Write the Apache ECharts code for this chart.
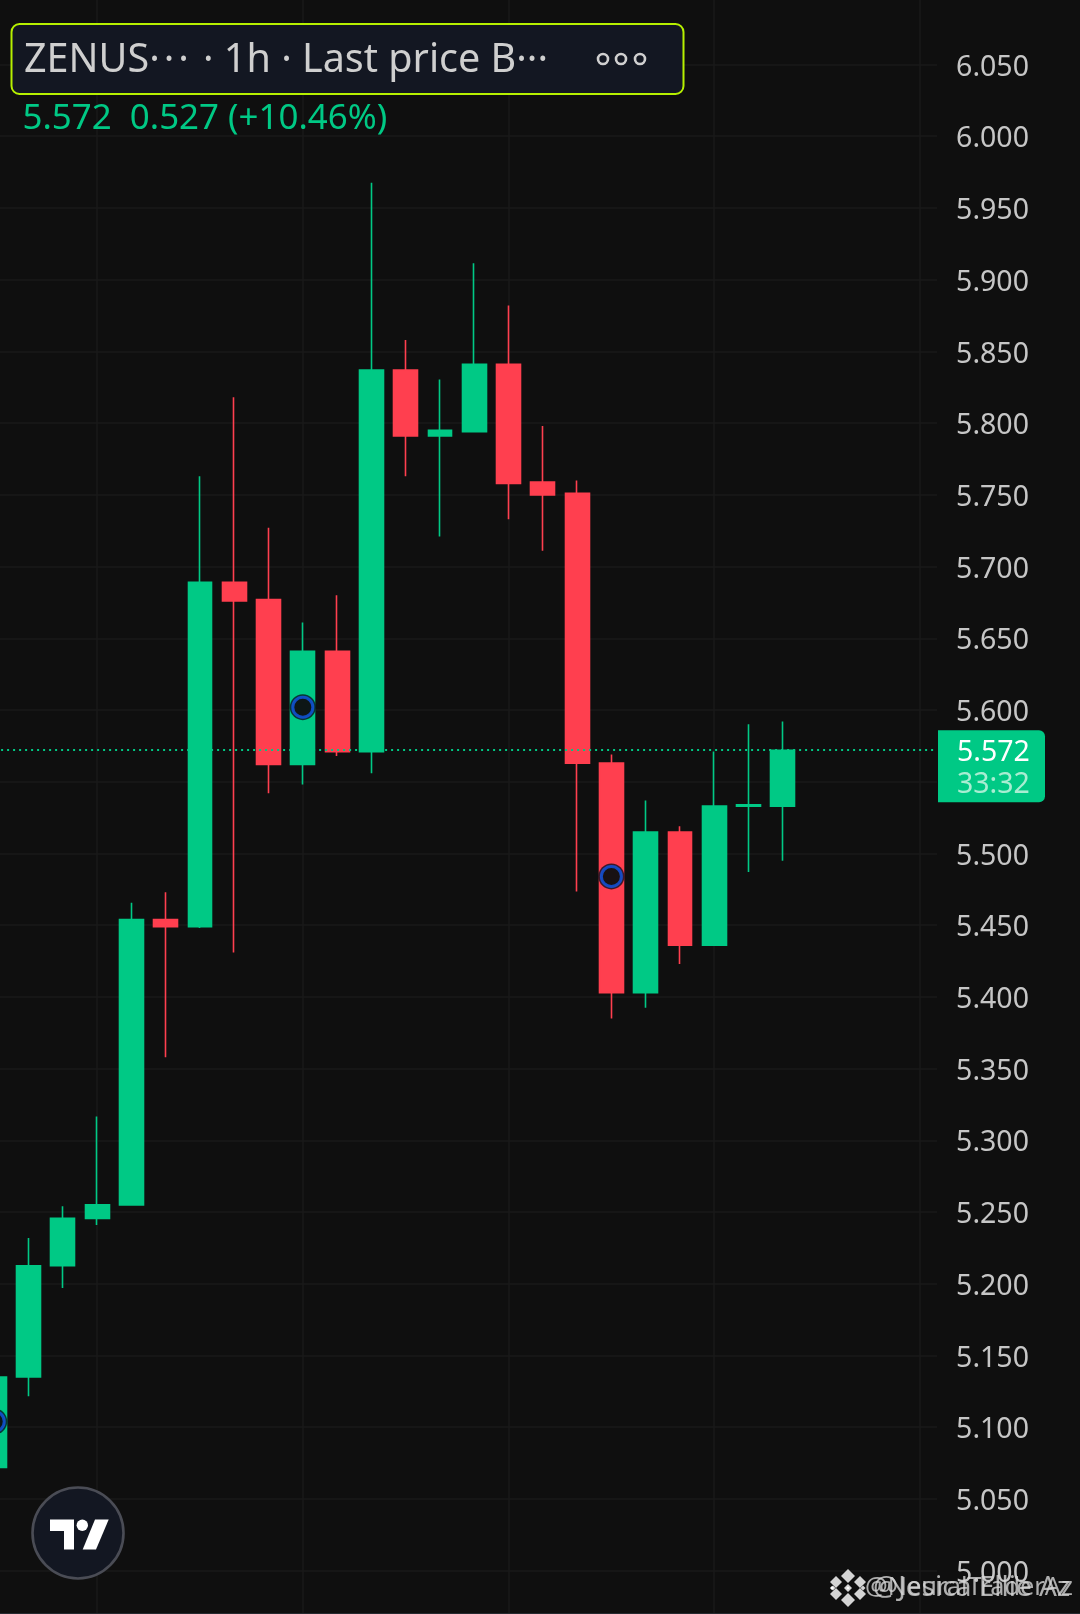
<!DOCTYPE html>
<html><head><meta charset="utf-8">
<style>html,body{margin:0;padding:0;background:#0f0f0f}#c{width:1080px;height:1614px}</style>
<script src="https://cdn.jsdelivr.net/npm/echarts@6/dist/echarts.min.js"></script>
</head><body><div id="c"></div>
<script>
const candleLabels = Array.from({length:28},(_, i)=>String(i));
const opens  = [5.072,5.135,5.2126,5.2456,5.255,5.454,5.449,5.689,5.677,5.562,5.641,5.571,5.837,5.791,5.794,5.841,5.759,5.751,5.563,5.403,5.515,5.436,5.533,5.533];
const closes = [5.135,5.2126,5.2456,5.255,5.454,5.449,5.689,5.676,5.562,5.641,5.571,5.837,5.791,5.795,5.841,5.758,5.750,5.563,5.403,5.515,5.436,5.533,5.534,5.572];
const lows   = [5.072,5.1216,5.197,5.241,5.255,5.358,5.448,5.431,5.542,5.548,5.568,5.556,5.763,5.721,5.794,5.733,5.711,5.4735,5.385,5.3925,5.423,5.436,5.487,5.495];
const highs  = [5.135,5.232,5.254,5.3166,5.4657,5.473,5.763,5.818,5.727,5.661,5.68,5.9675,5.858,5.8305,5.9115,5.882,5.798,5.76,5.569,5.537,5.519,5.571,5.59,5.592];
const eventIndex = [0,9,18];
const eventPrice = [5.104,5.602,5.484];
const gridIndex = [3,9,15,21,27];
const lastPrice = 5.572;
const headerText = 'ZENUS\u00b7\u200a\u00b7\u200a\u00b7 \u200a\u00b7 1h \u00b7 Last price B\u00b7\u00b7\u00b7';
const quoteText = '5.572  0.527 (+10.46%)';
const countdown = '33:32';
const watermarks = ['@NeuralTraderAz','@Jesica Ellie Az'];

const GREEN='#00c985', RED='#ff3f4f', GRID='#1a1a1a', BG='#0f0f0f';
const FONT='"Noto Sans"';
const chart = echarts.init(document.getElementById('c'),null,{width:1080,height:1614});
chart.setOption({
  animation:false,
  backgroundColor:BG,
  grid:{left:-22.9,width:960,top:-7.2,height:1649.6,containLabel:false,outerBoundsMode:'none'},
  xAxis:{type:'category',data:candleLabels,boundaryGap:true,
    axisLine:{show:false},axisTick:{show:false},axisLabel:{show:false},splitLine:{show:false}},
  yAxis:{type:'value',position:'right',min:4.95,max:6.10,interval:0.05,scale:true,
    axisLine:{show:false},axisTick:{show:false},
    splitLine:{show:true,lineStyle:{color:GRID,width:1.5}},
    axisLabel:{show:true,margin:19,align:'left',verticalAlign:'top',lineHeight:6,color:'#c6c6c6',fontFamily:FONT,fontSize:28.5,
      showMinLabel:false,showMaxLabel:false,formatter:v=>v.toFixed(3)}},
  series:[
    {type:'line',data:[],silent:true,z:1,
      markLine:{silent:true,symbol:'none',animation:false,z:1,label:{show:false},
        lineStyle:{color:GRID,width:1.5,type:'solid'},
        data:gridIndex.map(i=>({xAxis:i}))}},
    {type:'candlestick',barWidth:24.4,z:3,
      itemStyle:{color:GREEN,color0:RED,borderColor:GREEN,borderColor0:RED,borderWidth:1.6},
      data:opens.map((o,i)=>[o,closes[i],lows[i],highs[i]])},
    {type:'line',data:[],silent:true,z:6,
      markLine:{silent:true,symbol:'none',animation:false,z:6,precision:3,label:{show:false},
        lineStyle:{color:GREEN,width:2,type:[2,4]},
        data:[{yAxis:lastPrice}]}},
    {type:'scatter',symbol:'circle',symbolSize:26,z:7,silent:true,
      itemStyle:{color:'#0b1020'},data:eventIndex.map((x,i)=>[x,eventPrice[i]])},
    {type:'scatter',symbol:'circle',symbolSize:20,z:8,silent:true,
      itemStyle:{color:BG,borderColor:'#1258e8',borderWidth:3},data:eventIndex.map((x,i)=>[x,eventPrice[i]])}
  ]
});
const tagY = chart.convertToPixel({yAxisIndex:0},lastPrice);
const Z=100;
const txt=(text,x,y,size,fill,z)=>({type:'text',z:z||Z+1,style:{text,x,y,font:size+'px '+FONT,fill,textAlign:'left',textVerticalAlign:'middle'}});
const ring=(cx,cy)=>({type:'circle',z:Z+1,shape:{cx,cy,r:5},style:{fill:'none',stroke:'#d0d0d0',lineWidth:2.6}});
const diamond=(cx,cy,r,fill)=>({type:'polygon',z:Z+1,shape:{points:[[cx,cy-r],[cx+r,cy],[cx,cy+r],[cx-r,cy]]},style:{fill}});
chart.setOption({graphic:{elements:[
  {type:'rect',z:Z,shape:{x:11.5,y:24,width:672,height:70,r:8},style:{fill:'#131722',stroke:'#b6f000',lineWidth:2}},
  txt(headerText,24,61,39.5,'#cfcfcf'),
  ring(603,59),ring(621,59),ring(640,59),
  txt(quoteText,22.5,119.5,34.9,GREEN),
  {type:'rect',z:Z,shape:{x:938,y:tagY-20,width:107,height:72,r:[0,6,6,0]},style:{fill:GREEN}},
  txt(lastPrice.toFixed(3),957,tagY+3,28.5,'#ffffff'),
  txt(countdown,957,tagY+35,28.5,'#a8edd2'),
  {type:'circle',z:Z,shape:{cx:78,cy:1533,r:45.5},style:{fill:'#131722',stroke:'#4a4c55',lineWidth:2.6}},
  {type:'polygon',z:Z+1,shape:{points:[[50,1519.5],[74,1519.5],[74,1549.5],[64,1549.5],[64,1531],[50,1531]]},style:{fill:'#ffffff'}},
  {type:'circle',z:Z+1,shape:{cx:82.3,cy:1525.3,r:5.7},style:{fill:'#ffffff'}},
  {type:'polygon',z:Z+1,shape:{points:[[95,1519.5],[108.7,1519.5],[96,1549.5],[82.7,1549.5]]},style:{fill:'#ffffff'}},
  diamond(848,1576,7,'#d4d4d4'),diamond(848,1600,7,'#d4d4d4'),
  diamond(836,1582,6,'#d4d4d4'),diamond(860,1582,6,'#d4d4d4'),
  diamond(836,1594,6,'#d4d4d4'),diamond(860,1594,6,'#d4d4d4'),
  diamond(848,1588,4,'#d4d4d4'),diamond(833,1588,2.5,'#d4d4d4'),diamond(863,1588,2.5,'#d4d4d4'),
  diamond(848,1588,1.6,'#ffffff'),
  diamond(832,1588,2,'#ffffff'),
  txt(watermarks[0],865,1588,25.3,'rgba(214,214,214,0.8)'),
  txt(watermarks[1],873,1588,28,'rgba(214,214,214,0.8)'),
  {type:'rect',z:Z,shape:{x:0,y:1613,width:1080,height:1},style:{fill:'#262a30'}}
]}});
</script></body></html>
